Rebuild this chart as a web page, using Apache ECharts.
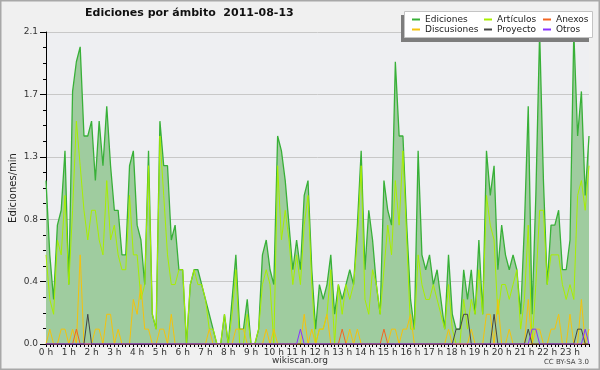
<!DOCTYPE html>
<html><head><meta charset="utf-8">
<script src="https://cdn.jsdelivr.net/npm/echarts/dist/echarts.min.js"></script>
<style>html,body{margin:0;padding:0;background:#f0f0f0}#c{width:600px;height:370px}</style>
</head><body><div id="c"></div>
<script>
const hourLabels = ['0 h','1 h','2 h','3 h','4 h','5 h','6 h','7 h','8 h','9 h','10 h','11 h',
  '12 h','13 h','14 h','15 h','16 h','17 h','18 h','19 h','20 h','21 h','22 h','23 h'];
const yTickDecimals = 1;
// 10-minute bins, 00:00 .. 23:50
const times = [];
for (let h = 0; h < 24; h++) for (let m = 0; m < 60; m += 10) times.push(String(h).padStart(2,'0') + ':' + String(m).padStart(2,'0'));

const ediciones = [
  1.1,0.6,0.3,0.8,0.9,1.3,0.4,1.7,1.9,2.0,1.4,1.4,
  1.5,1.1,1.5,1.2,1.6,1.2,0.9,0.9,0.6,0.6,1.2,1.3,
  0.8,0.7,0.4,1.3,0.2,0.1,1.5,1.2,1.2,0.7,0.8,0.5,
  0.5,0.0,0.4,0.5,0.5,0.4,0.3,0.2,0.1,0.0,0.0,0.2,
  0.0,0.3,0.6,0.1,0.1,0.3,0.0,0.0,0.1,0.6,0.7,0.5,
  0.4,1.4,1.3,1.1,0.8,0.5,0.7,0.5,1.0,1.1,0.5,0.1,
  0.4,0.3,0.4,0.6,0.2,0.4,0.3,0.4,0.5,0.4,0.8,1.3,
  0.5,0.9,0.7,0.4,0.2,1.1,0.9,0.8,1.9,1.4,1.4,0.8,
  0.3,0.1,1.3,0.6,0.5,0.6,0.4,0.5,0.3,0.1,0.6,0.2,
  0.1,0.1,0.5,0.3,0.5,0.2,0.7,0.2,1.3,1.0,1.2,0.5,
  0.8,0.6,0.5,0.6,0.5,0.2,0.8,1.6,0.2,1.0,2.1,1.1,
  0.4,0.8,0.8,0.9,0.5,0.5,0.7,2.1,1.4,1.7,1.0,1.4];
const articulos = [
  0.6,0.3,0.2,0.7,0.6,1.0,0.4,0.9,1.5,1.2,0.9,0.7,
  0.9,0.9,0.7,0.6,1.1,0.7,0.8,0.6,0.5,0.5,1.0,0.6,
  0.6,0.3,0.4,1.2,0.2,0.1,1.4,1.0,0.6,0.4,0.4,0.5,
  0.5,0.0,0.4,0.5,0.4,0.4,0.3,0.1,0.1,0.0,0.0,0.2,
  0.0,0.2,0.5,0.0,0.0,0.2,0.0,0.0,0.1,0.4,0.5,0.4,
  0.0,1.2,0.7,0.9,0.7,0.4,0.6,0.4,0.8,1.0,0.4,0.0,
  0.1,0.1,0.2,0.5,0.0,0.4,0.2,0.4,0.3,0.4,0.7,1.2,
  0.3,0.2,0.5,0.4,0.2,0.5,0.8,0.6,1.1,0.8,1.3,0.7,
  0.1,0.1,0.6,0.4,0.3,0.3,0.4,0.3,0.2,0.1,0.4,0.1,
  0.0,0.0,0.3,0.1,0.3,0.2,0.5,0.2,1.0,0.8,0.7,0.2,
  0.4,0.4,0.3,0.4,0.5,0.1,0.3,0.8,0.0,0.4,0.9,0.9,
  0.4,0.6,0.6,0.6,0.4,0.3,0.4,0.3,1.0,1.1,0.9,1.2];
const discusiones = [
  0,0.1,0,0,0.1,0.1,0,0.1,0,0.6,0,0,
  0,0.1,0.1,0,0.2,0.2,0,0.1,0,0,0,0.3,
  0.2,0.4,0.1,0.1,0,0,0.1,0.1,0,0.2,0,0,
  0,0,0,0,0,0,0,0.1,0,0,0,0,
  0,0,0.1,0.1,0.1,0,0,0,0,0,0.1,0,
  0.1,0,0,0,0,0,0,0,0.2,0,0.1,0,
  0.1,0.1,0.2,0,0,0,0,0,0.1,0,0.1,0,
  0,0,0,0,0,0,0,0.1,0.1,0,0.1,0.1,
  0.2,0,0,0,0,0,0,0,0,0,0.1,0,
  0,0,0,0,0.1,0,0,0,0.2,0.2,0,0.3,
  0,0,0.1,0,0,0,0,0.3,0,0.1,0.1,0,
  0,0.1,0.1,0.2,0,0,0.2,0,0,0.3,0,0.1];
const anexos = [
  0,0,0,0,0,0,0,0,0.1,0,0,0,
  0,0,0,0,0,0,0,0,0,0,0,0,
  0,0,0,0,0,0,0,0,0,0,0,0,
  0,0,0,0,0,0,0,0,0,0,0,0,
  0,0,0,0,0,0,0,0,0,0,0,0,
  0,0,0,0,0,0,0,0,0,0,0,0,
  0,0,0,0,0,0,0.1,0,0,0,0,0,
  0,0,0,0,0,0.1,0,0,0,0,0,0,
  0,0,0,0,0,0,0,0,0,0,0,0,
  0,0,0,0,0,0,0,0,0,0,0,0,
  0,0,0,0,0,0,0,0,0,0,0,0,
  0,0,0,0,0,0,0,0,0,0,0,0];
const proyecto = [
  0,0,0,0,0,0,0,0,0,0,0,0.2,
  0,0,0,0,0,0,0,0,0,0,0,0,
  0,0,0,0,0,0,0,0,0,0,0,0,
  0,0,0,0,0,0,0,0,0,0,0,0,
  0,0,0,0,0,0,0,0,0,0,0,0,
  0,0,0,0,0,0,0,0,0,0,0,0,
  0,0,0,0,0,0,0,0,0,0,0,0,
  0,0,0,0,0,0,0,0,0,0,0,0,
  0,0,0,0,0,0,0,0,0,0,0,0,
  0.1,0.1,0.2,0.2,0,0,0,0,0,0,0.2,0,
  0,0,0,0,0,0,0,0.1,0,0,0,0,
  0,0,0,0,0,0,0,0,0.1,0.1,0,0];
const otros = [
  0,0,0,0,0,0,0,0,0,0,0,0,
  0,0,0,0,0,0,0,0,0,0,0,0,
  0,0,0,0,0,0,0,0,0,0,0,0,
  0,0,0,0,0,0,0,0,0,0,0,0,
  0,0,0,0,0,0,0,0,0,0,0,0,
  0,0,0,0,0,0,0,0.1,0,0,0,0,
  0,0,0,0,0,0,0,0,0,0,0,0,
  0,0,0,0,0,0,0,0,0,0,0,0,
  0,0,0,0,0,0,0,0,0,0,0,0,
  0,0,0,0,0,0,0,0,0,0,0,0,
  0,0,0,0,0,0,0,0,0.1,0.1,0,0,
  0,0,0,0,0,0,0,0,0,0,0.1,0];

const FONT = 'DejaVu Sans';
function line(name, data, color, width, fill) {
  const s = {name, type:'line', data, symbol:'none', showSymbol:false, animation:false, silent:true,
    lineStyle:{color, width}, itemStyle:{color}, z: fill ? 2 : 3};
  if (fill) s.areaStyle = {color: fill, opacity: 1};
  return s;
}
const legCommon = {itemWidth:8, itemHeight:2, icon:'rect', padding:0, selectedMode:false, z:20,
  textStyle:{fontSize:9, fontFamily:FONT, color:'#222'}};
const chart = echarts.init(document.getElementById('c'), null, {renderer:'canvas'});
chart.setOption({
  backgroundColor:'#f0f0f0',
  animation:false,
  title:{text:'Ediciones por ámbito  2011-08-13', left:85, top:8, padding:0,
    textStyle:{fontSize:11, fontWeight:'bold', fontFamily:FONT, color:'#111'}},
  legend:[
    Object.assign({data:['Ediciones'], left:412, top:15}, legCommon),
    Object.assign({data:['Artículos'], left:484, top:15}, legCommon),
    Object.assign({data:['Anexos'], left:543, top:15}, legCommon),
    Object.assign({data:['Discusiones'], left:412, top:25}, legCommon),
    Object.assign({data:['Proyecto'], left:484, top:25}, legCommon),
    Object.assign({data:['Otros'], left:543, top:25}, legCommon)
  ],
  grid:{left:46, right:11, top:32, bottom:26, show:true, backgroundColor:'#eeeff2', borderWidth:0,
    containLabel:false, outerBoundsMode:'none'},
  xAxis:{type:'category', data:times, boundaryGap:false,
    axisLine:{lineStyle:{color:'#000', width:1}},
    axisTick:{show:true, interval:0, length:3, lineStyle:{color:'#000'}},
    axisLabel:{interval:(i)=>i%6===0, formatter:(v,i)=>hourLabels[Math.floor(i/6)],
      fontSize:9, fontFamily:FONT, color:'#333', margin:4},
    splitLine:{show:false}},
  yAxis:{type:'value', min:0, max:2.1, interval:0.42,
    axisLine:{show:true, lineStyle:{color:'#000', width:1}},
    axisTick:{show:true, length:6, lineStyle:{color:'#000'}},
    minorTick:{show:true, splitNumber:4, length:3, lineStyle:{color:'#000'}},
    axisLabel:{formatter:(v)=>v.toFixed(yTickDecimals), fontSize:9, fontFamily:FONT, color:'#333', margin:8},
    splitLine:{show:true, lineStyle:{color:'#c8c8c8', width:1}},
    name:'Ediciones/min', nameLocation:'middle', nameGap:28, nameRotate:90, nameMoveOverlap:false,
    nameTextStyle:{fontSize:10, fontFamily:FONT, color:'#222'}},
  series:[
    line('Ediciones', ediciones, '#38b038', 1.3, '#9fcc9f'),
    line('Artículos', articulos, '#a8ee00', 1),
    line('Discusiones', discusiones, '#f4c20d', 1),
    line('Anexos', anexos, '#f26522', 1),
    line('Proyecto', proyecto, '#444444', 1),
    line('Otros', otros, '#8833ff', 1)
  ],
  graphic:[
    {type:'rect', z:100, silent:true, shape:{x:0, y:0, width:600, height:370},
      style:{fill:null, stroke:'#a8a8a8', lineWidth:3}},
    {type:'rect', z:15, silent:true, shape:{x:401, y:15, width:188, height:27}, style:{fill:'#7d7d7d'}},
    {type:'rect', z:16, silent:true, shape:{x:404.5, y:11.5, width:188, height:26}, style:{fill:'#ffffff', stroke:'#c4c4c4', lineWidth:1}},
    {type:'text', z:16, silent:true, style:{text:'wikiscan.org', x:300, y:361, align:'center', verticalAlign:'middle', font:'9px "DejaVu Sans"', fill:'#333'}},
    {type:'text', z:16, silent:true, style:{text:'CC BY-SA 3.0', x:589, y:362, align:'right', verticalAlign:'middle', font:'7px "DejaVu Sans"', fill:'#444'}}
  ]
});
</script></body></html>
